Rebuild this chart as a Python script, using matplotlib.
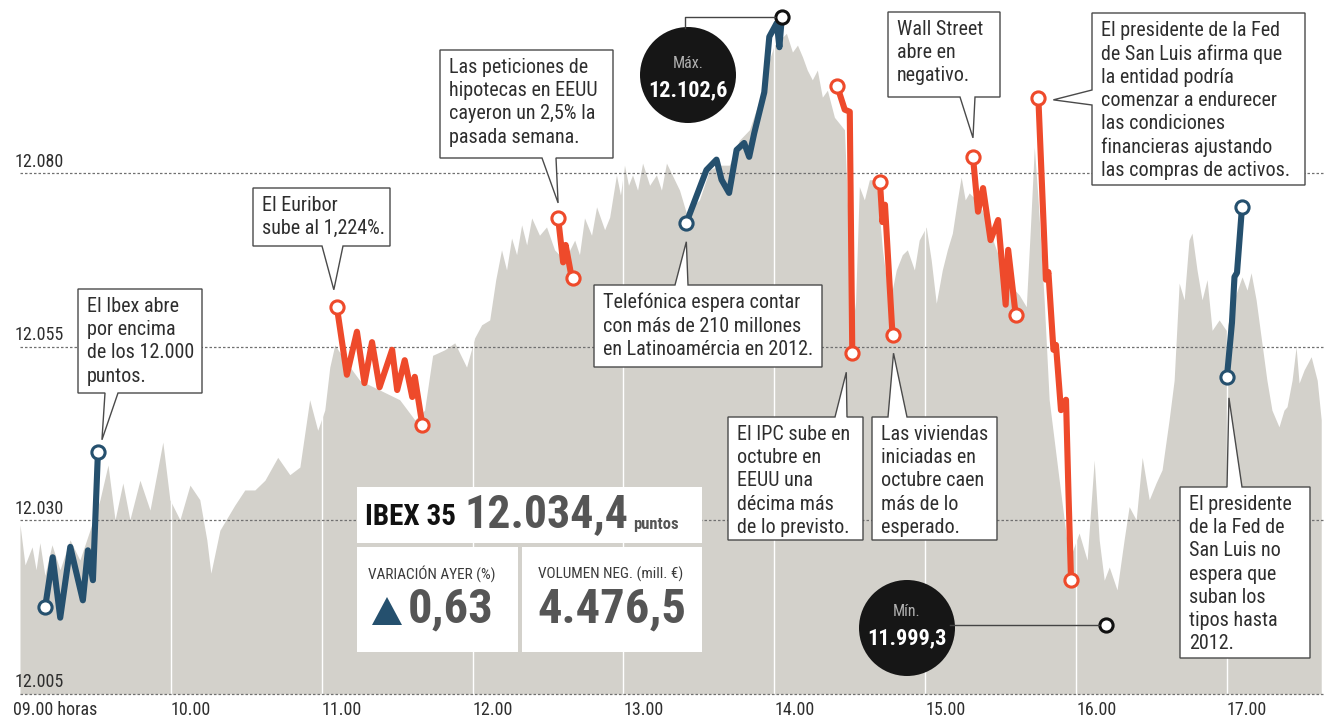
import numpy as np
import matplotlib.pyplot as plt
from matplotlib import font_manager
from matplotlib.patches import Polygon, Circle, Rectangle
from matplotlib.transforms import blended_transform_factory, ScaledTranslation

W, H = 1336, 721

# narrow sans for the labels if one is installed
installed = {f.name for f in font_manager.fontManager.ttflist}


def pick(names):
    for n in names:
        if n in installed:
            return n
    return 'DejaVu Sans'


body = pick(['Liberation Sans Narrow', 'Roboto Condensed', 'Open Sans Condensed', 'Noto Sans', 'Open Sans'])
plt.rcParams['font.family'] = [body, 'DejaVu Sans']

# IBEX 35 intraday, minutes after 09.00 and index points
area_min = [0, 2, 4.8, 6.4, 7.9, 9.9, 12.7, 15.9, 19.9, 23.8,
            27.8, 31.8, 35, 37.8, 40.9, 43.7, 47.7, 51.7, 56.8, 59.6,
            63.6, 67.6, 71.5, 74.3, 75.9, 79.5, 85.4, 89.4, 93.4, 97.4,
            102.5, 107.3, 111.3, 115.2, 118.4, 121.2, 123.2, 125.2, 129.2, 135.1,
            143.1, 151, 157, 160.9, 164.1, 168.9, 172.9, 177.6, 180.8, 183.6,
            186.8, 189.2, 191.5, 193.5, 195.5, 197.5, 199.5, 201.5, 203.5, 206.6,
            209.4, 212.6, 216.6, 220.6, 222.5, 224.5, 227.3, 229.3, 232.5, 234.5,
            237.2, 238.8, 240.4, 242, 243.6, 245.6, 247.6, 250.4, 253.1, 255.1,
            257.1, 260.3, 262.3, 265.5, 268.2, 270.2, 274.2, 278.2, 282.1, 286.1,
            290.1, 294.1, 298, 300, 302, 304.8, 307.2, 309.2, 311.2, 313.1,
            315.1, 317.1, 319.1, 321.1, 323.9, 327.9, 329.8, 332.2, 333.8, 335.8,
            337.8, 340.6, 343, 345.8, 348.5, 350.9, 352.9, 355.7, 357.6, 360.4,
            362.4, 364.4, 366.8, 368.8, 370.8, 372.8, 374.3, 375.9, 377.5, 380.3,
            382.7, 385.5, 388.3, 391.4, 394.6, 397.4, 400.2, 401.8, 403.4, 404.9,
            407.3, 409.3, 413.3, 417.3, 421.2, 424.4, 427.2, 429.2, 431.2, 433.2,
            436.3, 439.1, 441.1, 443.9, 446.3, 449.1, 451.8, 454.2, 457, 459,
            461, 463, 464.9, 466.1, 468.1, 470.1, 472.1, 474.1, 476.9, 479.7,
            482.8, 486, 488, 489.6, 491.6, 493.6, 495.9, 497.9, 500.7, 502.7,
            503.9, 505.9, 507.5, 508.7, 510.7, 513.5, 515.9, 517.5]
area_val = [12029.4, 12023.6, 12026.2, 12022.9, 12026.8, 12022.1, 12026.5, 12022.9, 12027.2, 12024.3,
            12028.6, 12033.0, 12038.0, 12030.1, 12035.4, 12030.1, 12035.8, 12031.5, 12041.3, 12033.0,
            12030.1, 12035.1, 12033.0, 12027.2, 12022.4, 12028.6, 12032.2, 12034.4, 12034.4, 12035.8,
            12039.1, 12036.6, 12037.7, 12047.4, 12043.0, 12045.9, 12052.1, 12055.3, 12053.1, 12050.2,
            12048.8, 12047.4, 12044.5, 12045.9, 12053.8, 12054.6, 12055.6, 12052.1, 12056.3, 12058.2,
            12058.9, 12064.7, 12069.0, 12066.1, 12070.7, 12068.3, 12072.6, 12069.7, 12073.6, 12071.1,
            12072.3, 12069.0, 12067.5, 12070.4, 12068.3, 12073.6, 12071.1, 12075.2, 12071.9, 12073.7,
            12079.8, 12076.9, 12081.2, 12078.3, 12079.8, 12077.6, 12081.5, 12078.3, 12079.8, 12077.6,
            12081.5, 12079.1, 12077.6, 12073.7, 12075.5, 12076.2, 12080.5, 12081.2, 12081.2, 12084.8,
            12086.3, 12090.6, 12096.4, 12098.5, 12099.2, 12100.2, 12097.5, 12098.5, 12096.8, 12094.9,
            12093.5, 12094.9, 12091.0, 12092.0, 12088.1, 12086.3, 12069.0, 12060.3, 12078.1, 12076.2,
            12079.1, 12079.1, 12069.0, 12061.3, 12066.1, 12068.3, 12069.0, 12066.1, 12070.4, 12072.3,
            12067.5, 12061.3, 12066.1, 12069.0, 12071.4, 12076.2, 12079.5, 12076.2, 12077.2, 12076.2,
            12074.7, 12071.9, 12069.0, 12066.1, 12063.6, 12062.5, 12060.8, 12071.9, 12083.8, 12076.2,
            12061.8, 12047.4, 12035.8, 12024.3, 12028.2, 12024.3, 12038.7, 12027.2, 12021.4, 12023.3,
            12020.0, 12027.2, 12032.0, 12030.1, 12039.1, 12033.0, 12035.4, 12037.3, 12044.5, 12050.2,
            12064.2, 12061.8, 12070.4, 12071.4, 12066.1, 12061.8, 12064.7, 12057.4, 12058.9, 12057.4,
            12061.8, 12065.1, 12063.2, 12065.7, 12061.8, 12056.4, 12050.2, 12045.9, 12043.5, 12045.9,
            12046.4, 12050.2, 12055.0, 12049.8, 12051.7, 12053.6, 12050.2, 12044.5]

# stretches tied to the news of the day
ibex_open_min = [10, 13, 16, 20, 25, 27, 29, 31]
ibex_open_val = [12017.5, 12024.7, 12016.0, 12026.2, 12018.5, 12025.7, 12021.4, 12039.9]
euribor_min = [126, 130, 134, 137, 140, 143, 148, 150, 153, 156, 157, 160]
euribor_val = [12060.8, 12051.0, 12057.2, 12049.8, 12055.7, 12049.2, 12054.6, 12048.8,
               12053.1, 12047.8, 12050.7, 12043.8]
hipotecas_min = [214, 216, 217, 219, 220]
hipotecas_val = [12073.6, 12067.2, 12069.7, 12065.8, 12064.9]
telefonica_min = [265, 273, 277, 279, 282, 285, 288, 290, 292, 296, 298, 301, 302, 303]
telefonica_val = [12072.9, 12080.5, 12082.0, 12079.1, 12077.2, 12083.4, 12084.4, 12082.4,
                  12085.8, 12091.7, 12099.7, 12101.7, 12098.2, 12102.6]
ipc_min = [325, 328, 330, 331]
ipc_val = [12092.6, 12089.2, 12088.9, 12054.1]
viviendas_min = [342, 343, 344, 347]
viviendas_val = [12078.8, 12073.0, 12075.5, 12056.7]
wallst_min = [379, 381, 383, 386, 389, 392, 393, 396]
wallst_val = [12082.4, 12074.5, 12077.9, 12070.4, 12073.3, 12061.1, 12069.0, 12059.6]
fed_min = [405, 408, 409, 411, 412, 414, 416, 417, 418]
fed_val = [12090.9, 12064.7, 12065.8, 12054.6, 12055.3, 12045.9, 12047.4, 12033.7, 12021.4]
fed2_min = [480, 482, 483, 484, 486]
fed2_val = [12050.7, 12058.5, 12065.1, 12065.7, 12075.2]

day_max = 12102.6
day_min = 11999.3
day_min_at = 432
ibex_close = 12034.4
variation = 0.63
volume = 4476.5

grid_levels = [12005, 12030, 12055, 12080]
hour_ticks = list(range(9, 18))

BLUE = '#25506e'
RED = '#ee4a2b'
INK = '#2e2e2e'


def es(x, d=0):
    s = f"{x:,.{d}f}"
    return s.replace(',', '#').replace('.', ',').replace('#', '.')


def hours(m):
    return 9 + np.asarray(m, dtype=float) / 60


fig = plt.figure(figsize=(W / 100, H / 100), dpi=100, facecolor='white')
ax = fig.add_axes([20 / W, (H - 694) / H, 1305 / W, 694 / H])
ax.set_xlim(9, 9 + 519 / 60)
ax.set_ylim(12005, 12105)
for s in ax.spines.values():
    s.set_visible(False)

ax.fill_between(hours(area_min), area_val, 12005, color='#d3d1cb', lw=0, zorder=1)
for h in hour_ticks[1:]:
    ax.axvline(h, color='white', lw=1.0, zorder=2)
for lv in grid_levels:
    ax.axhline(lv, color='#707070', lw=0.9, ls=(0, (2, 1.6)), zorder=3, clip_on=False)
    ax.annotate(es(lv), xy=(0, lv), xycoords=blended_transform_factory(ax.transAxes, ax.transData),
                xytext=(-4, 2), textcoords='offset points', ha='left', va='bottom',
                fontsize=13, color=INK)

ax.set_yticks([])
ax.set_xticks(hour_ticks)
ax.set_xticklabels(['09.00 horas'] + [f'{h}.00' for h in hour_ticks[1:]], ha='left',
                   fontsize=13, color=INK)
ax.tick_params(axis='x', length=0, pad=5)
first = ax.get_xticklabels()[0]
first.set_transform(first.get_transform() + ScaledTranslation(-0.07, 0, fig.dpi_scale_trans))

segments = [(ibex_open_min, ibex_open_val, BLUE), (euribor_min, euribor_val, RED),
            (hipotecas_min, hipotecas_val, RED), (telefonica_min, telefonica_val, BLUE),
            (ipc_min, ipc_val, RED), (viviendas_min, viviendas_val, RED),
            (wallst_min, wallst_val, RED), (fed_min, fed_val, RED), (fed2_min, fed2_val, BLUE)]
for m, v, c in segments:
    ax.plot(hours(m), v, color=c, lw=4.4, solid_joinstyle='round', solid_capstyle='round', zorder=5)
    ends = [0, -1] if m is not telefonica_min else [0]
    ax.plot(hours(m)[ends], np.asarray(v)[ends], 'o', ms=9.5, mfc='white', mec=c, mew=2.2, zorder=6)

# day high and low markers
ax.plot(hours([telefonica_min[-1]]), [day_max], 'o', ms=9.5, mfc='white', mec='#111', mew=2.2, zorder=6)
low_tr = blended_transform_factory(ax.transData, ax.transAxes)
ax.plot(hours([day_min_at]), [0.10], 'o', ms=9.5, mfc='white', mec='#111', mew=2.2,
        transform=low_tr, zorder=6)

# overlay in pixel units for callouts
ov = fig.add_axes([0, 0, 1, 1], zorder=10)
ov.set_xlim(0, W)
ov.set_ylim(H, 0)
ov.axis('off')


def to_px(m, v, tr=None):
    x, y = (tr or ax.transData).transform((hours(m), v))
    return x, H - y


def bubble(x0, y0, x1, y1, side, b0, b1, tip, text):
    tx, ty = tip
    if side == 'bottom':
        pts = [(x0, y0), (x1, y0), (x1, y1), (b1, y1), (tx, ty), (b0, y1), (x0, y1)]
    elif side == 'top':
        pts = [(x0, y0), (b0, y0), (tx, ty), (b1, y0), (x1, y0), (x1, y1), (x0, y1)]
    else:
        pts = [(x0, y0), (x1, y0), (x1, y1), (x0, y1), (x0, b1), (tx, ty), (x0, b0)]
    ov.add_patch(Polygon(pts, closed=True, fc='white', ec='#4a4a4a', lw=1.0, joinstyle='miter'))
    ov.text(x0 + 9, y0 + 8, text, ha='left', va='top', fontsize=14.5, color=INK, linespacing=1.28)


def tip_from(m, v, dx, dy):
    x, y = to_px(m, v)
    return x + dx, y + dy


bubble(78, 289, 202, 393, 'bottom', 105, 118, tip_from(ibex_open_min[-1], ibex_open_val[-1], 4, -12),
       'El Ibex abre\npor encima\nde los 12.000\npuntos.')
bubble(253, 188, 390, 246, 'bottom', 322, 343, tip_from(euribor_min[0], euribor_val[0], -3, -17),
       'El Euribor\nsube al 1,224%.')
bubble(440, 50, 613, 158, 'bottom', 542, 556, tip_from(hipotecas_min[0], hipotecas_val[0], 0, -15),
       'Las peticiones de\nhipotecas en EEUU\ncayeron un 2,5% la\npasada semana.')
bubble(594, 285, 822, 367, 'top', 675, 688, tip_from(telefonica_min[0], telefonica_val[0], 0, 19),
       'Telefónica espera contar\ncon más de 210 millones\nen Latinoamércia en 2012.')
bubble(728, 417, 863, 540, 'top', 835, 847, tip_from(ipc_min[-1], ipc_val[-1], -6, 19),
       'El IPC sube en\noctubre en\nEEUU una\ndécima más\nde lo previsto.')
bubble(872, 417, 997, 540, 'top', 888, 907, tip_from(viviendas_min[-1], viviendas_val[-1], 1, 18),
       'Las viviendas\niniciadas en\noctubre caen\nmás de lo\nesperado.')
bubble(888, 12, 1000, 97, 'bottom', 960, 975, tip_from(wallst_min[0], wallst_val[0], 0, -19),
       'Wall Street\nabre en\nnegativo.')
bubble(1092, 13, 1305, 185, 'left', 90, 105, tip_from(fed_min[0], fed_val[0], 15, 2),
       'El presidente de la Fed\nde San Luis afirma que\nla entidad podría\ncomenzar a endurecer\n'
       'las condiciones\nfinancieras ajustando\nlas compras de activos.')
bubble(1180, 487, 1310, 658, 'top', 1227, 1242, tip_from(fed2_min[0], fed2_val[0], 2, 21),
       'El presidente\nde la Fed de\nSan Luis no\nespera que\nsuban los\ntipos hasta\n2012.')

# high / low discs
hx, hy = to_px(telefonica_min[-1], day_max)
ov.add_patch(Circle((688, 75), 48, fc='#161616', ec='none'))
ov.plot([685, 685, hx - 7], [28, hy, hy], color='#444', lw=1.0)
ov.text(688, 63, 'Máx.', ha='center', va='center', fontsize=11.5, color='#b0b0b0')
ov.text(688, 90, es(day_max, 1), ha='center', va='center', fontsize=16, color='white', weight='bold')

lx, ly = to_px(day_min_at, 0.10, low_tr)
ov.add_patch(Circle((907, 628), 48, fc='#161616', ec='none'))
ov.plot([950, lx - 7], [ly, ly], color='#444', lw=1.0)
ov.text(907, 612, 'Mín.', ha='center', va='center', fontsize=11.5, color='#b0b0b0')
ov.text(907, 638, es(day_min, 1), ha='center', va='center', fontsize=16, color='white', weight='bold')

# summary panel
for (x0, y0, x1, y1) in [(357, 487, 702, 543), (357, 547, 518, 652), (522, 547, 702, 652)]:
    ov.add_patch(Rectangle((x0, y0), x1 - x0, y1 - y0, fc='white', ec='none'))
ov.text(365, 517, 'IBEX 35', ha='left', va='center', fontsize=21, weight='bold', color='#111')
ov.text(464, 514, es(ibex_close, 1), ha='left', va='center', fontsize=33, weight='bold', color='#555')
ov.text(633, 524, 'puntos', ha='left', va='center', fontsize=12, weight='bold', color='#555')
ov.text(368, 574, 'VARIACIÓN AYER (%)', ha='left', va='center', fontsize=11, color='#3a3a3a')
ov.text(538, 574, 'VOLUMEN NEG. (mill. €)', ha='left', va='center', fontsize=11, color='#3a3a3a')
ov.add_patch(Polygon([(372, 625), (402, 625), (387, 597)], closed=True, fc=BLUE, ec='none'))
ov.text(408, 609, es(variation, 2), ha='left', va='center', fontsize=35, weight='bold', color='#555')
ov.text(537, 609, es(volume, 1), ha='left', va='center', fontsize=35, weight='bold', color='#555')

fig.savefig('out.png', dpi=100, facecolor='white')
